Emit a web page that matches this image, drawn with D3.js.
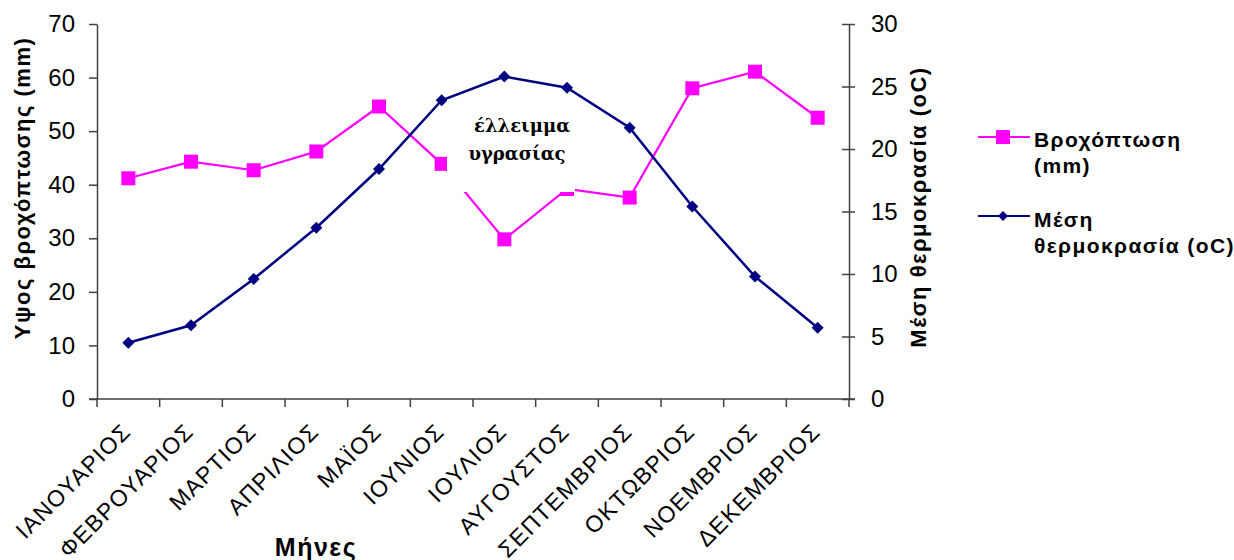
<!DOCTYPE html>
<html>
<head>
<meta charset="utf-8">
<script src="https://cdn.jsdelivr.net/npm/d3@7"></script>
<style>
  html, body { margin: 0; padding: 0; background: #fff; }
  svg { display: block; }
</style>
</head>
<body>
<svg id="chart" width="1234" height="560" font-family="Arial, 'Liberation Sans', sans-serif"></svg>
<script>
const months = ["ΙΑΝΟΥΑΡΙΟΣ","ΦΕΒΡΟΥΑΡΙΟΣ","ΜΑΡΤΙΟΣ","ΑΠΡΙΛΙΟΣ","ΜΑΪΟΣ","ΙΟΥΝΙΟΣ","ΙΟΥΛΙΟΣ","ΑΥΓΟΥΣΤΟΣ","ΣΕΠΤΕΜΒΡΙΟΣ","ΟΚΤΩΒΡΙΟΣ","ΝΟΕΜΒΡΙΟΣ","ΔΕΚΕΜΒΡΙΟΣ"];
const precipitation = [41.2, 44.3, 42.7, 46.2, 54.6, 43.9, 29.8, 39.2, 37.6, 58.0, 61.1, 52.5];
const temperature = [4.5, 5.9, 9.6, 13.7, 18.4, 23.9, 25.8, 24.9, 21.7, 15.4, 9.8, 5.7];
const leftTicks = [0, 10, 20, 30, 40, 50, 60, 70];
const rightTicks = [0, 5, 10, 15, 20, 25, 30];
const seriesNames = [["Βροχόπτωση", "(mm)"], ["Μέση", "θερμοκρασία (oC)"]];
const leftTitle = "Υψος βροχόπτωσης (mm)";
const rightTitle = "Μέση θερμοκρασία (oC)";
const xTitle = "Μήνες";
const noteLines = ["έλλειμμα", "υγρασίας"];

const svg = d3.select("#chart");
const L = 97, R = 849, T = 24, B = 399;
const axisColor = "#404040";
const pink = "#FF00FF", navy = "#000080";

const x = d3.scaleBand().domain(months).range([L, R]).padding(0);
const cx = d => x(d) + x.bandwidth() / 2;
const yL = d3.scaleLinear().domain([0, 70]).range([B, T]);
const yR = d3.scaleLinear().domain([0, 30]).range([B, T]);

// Left axis
const gL = svg.append("g").attr("transform", `translate(${L},0)`)
  .call(d3.axisLeft(yL).tickValues(leftTicks).tickSize(8).tickSizeOuter(0).tickPadding(14));
gL.select(".domain").attr("stroke", axisColor).attr("stroke-width", 1.5);
gL.selectAll(".tick line").attr("stroke", axisColor).attr("stroke-width", 1.5);
gL.selectAll(".tick text").attr("font-size", 24).attr("font-family", "Arial, 'Liberation Sans', sans-serif").attr("fill", "#000");

// Right axis
const gR = svg.append("g").attr("transform", `translate(${R},0)`)
  .call(d3.axisRight(yR).tickValues(rightTicks).tickSize(6).tickSizeOuter(0).tickPadding(16));
gR.select(".domain").attr("stroke", axisColor).attr("stroke-width", 1.5);
gR.selectAll(".tick line").attr("x1", -7).attr("stroke", axisColor).attr("stroke-width", 1.5);
gR.selectAll(".tick text").attr("font-size", 24).attr("font-family", "Arial, 'Liberation Sans', sans-serif").attr("fill", "#000");

// X axis (ticks at category boundaries)
const boundaries = months.map(m => x(m)).concat([R]);
const gX = svg.append("g");
gX.append("line").attr("x1", L - 8).attr("x2", R + 6).attr("y1", B).attr("y2", B)
  .attr("stroke", axisColor).attr("stroke-width", 1.5);
gX.selectAll("line.tk").data(boundaries).join("line").attr("class", "tk")
  .attr("x1", d => d).attr("x2", d => d).attr("y1", B).attr("y2", B + 8)
  .attr("stroke", axisColor).attr("stroke-width", 1.5);
gX.selectAll("text.mon").data(months).join("text").attr("class", "mon")
  .attr("transform", d => `translate(${cx(d) + 4},${B + 34}) rotate(-45)`)
  .attr("text-anchor", "end").attr("font-size", 23).attr("letter-spacing", 1.3).text(d => d);

// Axis titles
svg.append("text").attr("transform", `translate(30,${188}) rotate(-90)`)
  .attr("text-anchor", "middle").attr("font-size", 22).attr("font-weight", "bold")
  .attr("letter-spacing", 1.5).text(leftTitle);
svg.append("text").attr("transform", `translate(926,${207}) rotate(-90)`)
  .attr("text-anchor", "middle").attr("font-size", 22).attr("font-weight", "bold")
  .attr("letter-spacing", 1.5).text(rightTitle);
svg.append("text").attr("x", 316).attr("y", 556)
  .attr("text-anchor", "middle").attr("font-size", 25).attr("font-weight", "bold")
  .attr("letter-spacing", 1.5).text(xTitle);

// Lines
const linePrec = d3.line().x((d, i) => cx(months[i])).y(d => yL(d));
const lineTemp = d3.line().x((d, i) => cx(months[i])).y(d => yR(d));

svg.append("path").datum(precipitation).attr("d", linePrec)
  .attr("fill", "none").attr("stroke", pink).attr("stroke-width", 2.2);
svg.selectAll("rect.pm").data(precipitation).join("rect").attr("class", "pm")
  .attr("x", (d, i) => cx(months[i]) - 7).attr("y", d => yL(d) - 7)
  .attr("width", 14).attr("height", 14).attr("fill", pink);

svg.append("path").datum(temperature).attr("d", lineTemp)
  .attr("fill", "none").attr("stroke", navy).attr("stroke-width", 2.5);
svg.selectAll("path.tm").data(temperature).join("path").attr("class", "tm")
  .attr("d", d3.symbol().type(d3.symbolSquare).size(72)())
  .attr("transform", (d, i) => `translate(${cx(months[i])},${yR(d)}) rotate(45)`)
  .attr("fill", navy);

// Annotation box
svg.append("rect").attr("x", 447).attr("y", 100).attr("width", 128).attr("height", 92).attr("fill", "#fff");
const noteG = svg.append("g").attr("font-family", "'DejaVu Serif', serif");
noteG.selectAll("text.note").data(noteLines).join("text").attr("class", "note")
  .attr("x", (d, i) => i === 0 ? 522 : 517).attr("y", (d, i) => 132 + i * 28)
  .attr("text-anchor", "middle").attr("font-size", 18).attr("font-weight", "bold")
  .text(d => d);

// Legend
const lg = svg.append("g");
const legY = [137, 216];
lg.selectAll("line.ll").data(legY).join("line").attr("class", "ll")
  .attr("x1", 978).attr("x2", 1030).attr("y1", d => d).attr("y2", d => d)
  .attr("stroke", (d, i) => i === 0 ? pink : navy).attr("stroke-width", 2.2);
lg.append("rect").attr("x", 1003 - 7).attr("y", legY[0] - 7).attr("width", 14).attr("height", 14).attr("fill", pink);
lg.append("path").attr("d", d3.symbol().type(d3.symbolSquare).size(50)())
  .attr("transform", `translate(1003,${legY[1]}) rotate(45)`).attr("fill", navy);
seriesNames.forEach((lines, i) => {
  lines.forEach((t, j) => {
    lg.append("text").attr("x", 1034).attr("y", [147, 227][i] + j * 26)
      .attr("font-size", 21).attr("font-weight", "bold").attr("letter-spacing", 1.4).text(t);
  });
});
</script>
</body>
</html>
